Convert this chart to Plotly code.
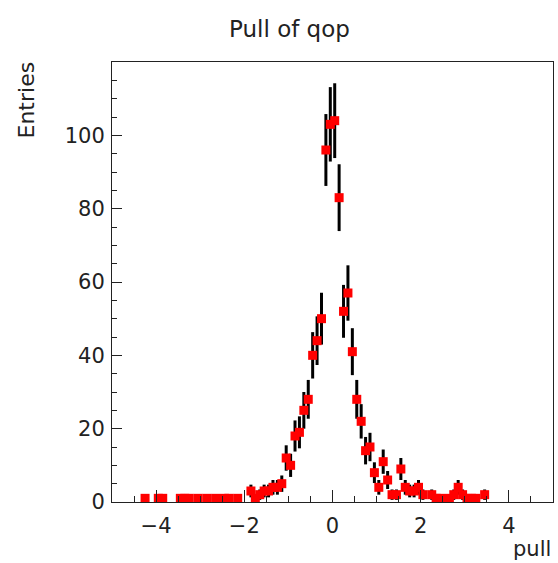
import numpy as np
import plotly.graph_objects as go

# Histogram of the q/p pull: bin centres (width 0.1) and entries of non-empty bins
bin_centers = [-4.25, -3.95, -3.85, -3.45, -3.35, -3.25, -3.05, -2.85, -2.65, -2.45, -2.35, -2.15,
               -1.85, -1.75, -1.65, -1.55, -1.45, -1.35, -1.25, -1.15,
               -1.05, -0.95, -0.85, -0.75, -0.65, -0.55, -0.45, -0.35, -0.25,
               -0.15, -0.05, 0.05, 0.15,
               0.25, 0.35, 0.45, 0.55, 0.65, 0.75, 0.85, 0.95,
               1.05, 1.15, 1.25, 1.35, 1.45, 1.55, 1.65, 1.75, 1.85, 1.95, 2.05,
               2.25, 2.35, 2.45, 2.65, 2.75, 2.85, 2.95, 3.05, 3.15, 3.25, 3.45]
entries = [1, 1, 1, 1, 1, 1, 1, 1, 1, 1, 1, 1,
           3, 1, 2, 3, 3, 4, 4, 5,
           12, 10, 18, 19, 25, 28, 40, 44, 50,
           96, 103, 104, 83,
           52, 57, 41, 28, 22, 14, 15, 8,
           4, 11, 6, 2, 2, 9, 4, 3, 3, 4, 2,
           2, 1, 1, 1, 2, 4, 2, 1, 1, 1, 2]

x_ticks = [-4, -2, 0, 2, 4]
y_ticks = [0, 20, 40, 60, 80, 100]

# Poisson uncertainty on each bin
errors = np.sqrt(np.array(entries, dtype=float))

W, H = 558, 563
L, R, T, B = 112, 5, 62, 61
pw, ph = W - L - R, H - T - B


def px(xp):
    return (xp - L) / pw


def py(yp):
    return (H - B - yp) / ph


FONT = "DejaVu Sans"

fig = go.Figure()
fig.add_trace(go.Scatter(
    x=bin_centers, y=entries, mode="markers",
    marker=dict(symbol="square", size=9, color="#ff0000", line=dict(width=0)),
    error_y=dict(type="data", array=errors, visible=True, color="black",
                 thickness=3, width=0),
    showlegend=False,
))

axis_common = dict(
    showline=True, mirror=True, linecolor="#222222", linewidth=1,
    showgrid=False, zeroline=False, ticks="inside", tickcolor="#222222",
    tickfont=dict(family=FONT, size=21, color="#222222"),
)

fig.update_xaxes(
    range=[-5, 5], tickvals=x_ticks, ticklen=12, tickwidth=1,
    ticklabelstandoff=5,
    minor=dict(dtick=0.5, tick0=0, ticklen=6, ticks="inside", tickcolor="#222222"),
    **axis_common,
)
fig.update_yaxes(
    range=[0, 120], tickvals=y_ticks, ticklen=10, tickwidth=1,
    ticklabelstandoff=2,
    minor=dict(dtick=5, tick0=0, ticklen=5, ticks="inside", tickcolor="#222222"),
    **axis_common,
)

fig.update_layout(
    width=W, height=H,
    margin=dict(l=L, r=R, t=T, b=B),
    plot_bgcolor="white", paper_bgcolor="white",
    annotations=[
        dict(text="Pull of qop", xref="paper", yref="paper", x=px(289), y=py(29),
             xanchor="center", yanchor="middle", showarrow=False,
             font=dict(family=FONT, size=23, color="#222222")),
        dict(text="Entries", xref="paper", yref="paper", x=px(26), y=py(60),
             xanchor="center", yanchor="top", textangle=-90, showarrow=False,
             font=dict(family=FONT, size=22, color="#222222")),
        dict(text="pull", xref="paper", yref="paper", x=1.0, y=py(549),
             xanchor="right", yanchor="middle", showarrow=False,
             font=dict(family=FONT, size=21, color="#222222")),
    ],
)

fig.write_html("out.html")
